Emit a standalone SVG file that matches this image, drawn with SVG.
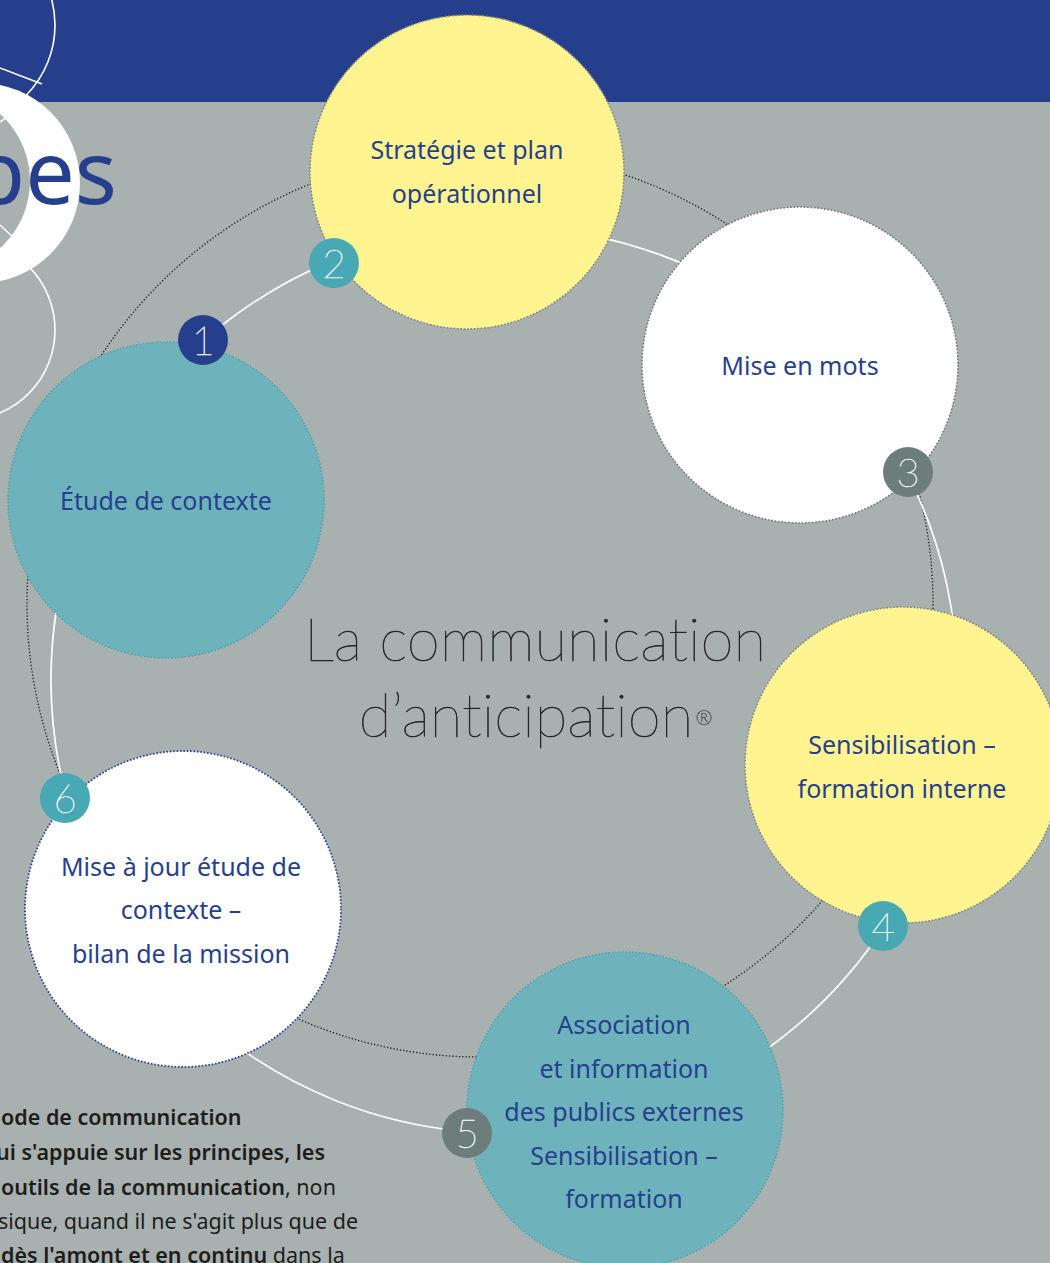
<svg xmlns="http://www.w3.org/2000/svg" width="1050" height="1263" viewBox="0 0 1050 1263">
<style>
.bg{fill:#a9b1b0}
.deco{fill:none;stroke:#ffffff;stroke-width:1.6}
.ring-dot{fill:none;stroke:#1a1a1a;stroke-width:1.3;stroke-dasharray:1.3 2}
.ring-white{fill:none;stroke:#ffffff;stroke-width:1.7}
.node-teal{fill:#6eb3bb;stroke:#4aa5b0;stroke-width:1.6;stroke-dasharray:1.6 1.8}
.node-yellow{fill:#fff48f;stroke:#7b8584;stroke-width:1.6;stroke-dasharray:1.6 1.8}
.node-white{fill:#ffffff;stroke:#6f7777;stroke-width:1.6;stroke-dasharray:1.6 1.8}
.node-white-blue{fill:#ffffff;stroke:#2b4396;stroke-width:1.8;stroke-dasharray:1.6 1.8}
.label{font-family:"Noto Sans","Open Sans","DejaVu Sans",sans-serif;font-size:25px;fill:#263f8e;text-anchor:middle}
.badge-navy{fill:#253f8d}
.badge-teal{fill:#48a9b4}
.badge-gray{fill:#6d7d7b}
.num{font-family:Lato,"Open Sans",sans-serif;font-weight:100;font-size:40px;fill:#f2f5f5;stroke:#f2f5f5;stroke-width:0.5;text-anchor:middle}
.title{font-family:Lato,"Open Sans",sans-serif;font-weight:100;font-size:60px;fill:#262626;stroke:#262626;stroke-width:0.6;text-anchor:middle;font-variant-ligatures:none;font-feature-settings:"liga" 0,"dlig" 0}
.body{font-family:"Noto Sans","Open Sans",sans-serif;font-size:21.5px;fill:#1d1d1b}
.b{font-weight:600}
</style>
<rect class="bg" x="0" y="0" width="1050" height="1263"/>
<rect x="0" y="0" width="1050" height="102" fill="#253f8d"/>
<g id="decoration">
  <circle class="deco" cx="-45" cy="25" r="100"/>
  <circle class="deco" cx="-35" cy="330" r="90"/>
  <line class="deco" x1="0" y1="68" x2="42" y2="84"/>
  <circle cx="-20" cy="183" r="100" fill="#ffffff"/>
  <circle cx="-60" cy="181" r="90" fill="#a9b1b0"/>
  <line class="deco" x1="0" y1="122" x2="14" y2="112"/>
  <line class="deco" x1="0" y1="225" x2="15" y2="239"/>
  <text x="117" y="204" font-family="Noto Sans, Open Sans, sans-serif" font-size="88" fill="#253f8d" text-anchor="end">pes</text>
</g>
<g id="connectors">
  <path class="ring-dot" d="M69.4 412.6 A453 453 0 0 1 362.8 166.4"/>
  <path class="ring-dot" d="M597.2 166.4 A453 453 0 0 1 771.2 257"/>
  <path class="ring-dot" d="M905.7 449.1 A453 453 0 0 1 926.1 682.6"/>
  <path class="ring-dot" d="M851.1 863.8 A453 453 0 0 1 671.4 1014.6"/>
  <path class="ring-dot" d="M519.5 1055.3 A453 453 0 0 1 253.5 996.3"/>
  <path class="ring-dot" d="M87.7 830.5 A453 453 0 0 1 42.4 486.8"/>
  <path class="ring-white" d="M203.8 340.7 A453 453 0 0 1 332.9 260.6"/>
  <path class="ring-white" d="M332.9 260.6 A453 453 0 0 1 906.9 472.9"/>
  <path class="ring-white" d="M906.9 472.9 A453 453 0 0 1 883.9 926.7"/>
  <path class="ring-white" d="M883.9 926.7 A453 453 0 0 1 466.9 1131.5"/>
  <path class="ring-white" d="M466.9 1131.5 A453 453 0 0 1 66.4 797.2"/>
  <path class="ring-white" d="M66.4 797.2 A453 453 0 0 1 203.8 340.7"/>
</g>
<g id="node-etude">
  <circle class="node-teal" cx="166" cy="500" r="158"/>
  <text class="label" x="166" y="510">Étude de contexte</text>
</g>
<g id="node-strategie">
  <circle class="node-yellow" cx="467" cy="172" r="157"/>
  <text class="label" x="467" y="159">Stratégie et plan</text>
  <text class="label" x="467" y="203">opérationnel</text>
</g>
<g id="node-mots">
  <circle class="node-white" cx="800" cy="365" r="158"/>
  <text class="label" x="800" y="375">Mise en mots</text>
</g>
<g id="node-sensibilisation">
  <circle class="node-yellow" cx="903" cy="765" r="158"/>
  <text class="label" x="902" y="754">Sensibilisation –</text>
  <text class="label" x="902" y="798">formation interne</text>
</g>
<g id="node-association">
  <circle class="node-teal" cx="625" cy="1110" r="158"/>
  <text class="label" x="624" y="1034">Association</text>
  <text class="label" x="624" y="1078">et information</text>
  <text class="label" x="624" y="1121">des publics externes</text>
  <text class="label" x="624" y="1165">Sensibilisation –</text>
  <text class="label" x="624" y="1208">formation</text>
</g>
<g id="node-miseajour">
  <circle class="node-white-blue" cx="183" cy="909" r="158"/>
  <text class="label" x="181" y="876">Mise à jour étude de</text>
  <text class="label" x="181" y="919">contexte –</text>
  <text class="label" x="181" y="963">bilan de la mission</text>
</g>
<g id="badge-1">
  <circle class="badge-navy" cx="203" cy="340" r="25"/>
  <text class="num" x="203" y="355">1</text>
</g>
<g id="badge-2">
  <circle class="badge-teal" cx="334" cy="263" r="25"/>
  <text class="num" x="334" y="278">2</text>
</g>
<g id="badge-3">
  <circle class="badge-gray" cx="908" cy="472" r="25"/>
  <text class="num" x="908" y="487">3</text>
</g>
<g id="badge-4">
  <circle class="badge-teal" cx="883" cy="926" r="25"/>
  <text class="num" x="883" y="941">4</text>
</g>
<g id="badge-5">
  <circle class="badge-gray" cx="467" cy="1133" r="25"/>
  <text class="num" x="467" y="1148">5</text>
</g>
<g id="badge-6">
  <circle class="badge-teal" cx="65" cy="798" r="25"/>
  <text class="num" x="65" y="813">6</text>
</g>
<g id="title">
  <text class="title" x="535" y="661">La communication</text>
  <text class="title" x="526" y="737">d’anticipation</text>
  <text x="704" y="724" font-family="Lato, Open Sans, sans-serif" font-weight="100" font-size="20" fill="#262626" stroke="#262626" stroke-width="0.3" text-anchor="middle">®</text>
</g>
<g id="body-text" class="body">
  <text x="1" y="1125"><tspan class="b">ode de communication</tspan></text>
  <text x="-4" y="1160"><tspan class="b">ui s'appuie sur les principes, les</tspan></text>
  <text x="1" y="1195"><tspan class="b">outils de la communication</tspan>, non</text>
  <text x="-2" y="1229">sique, quand il ne s'agit plus que de</text>
  <text x="1" y="1263"><tspan class="b">dès l'amont et en continu</tspan> dans la</text>
</g>
</svg>
